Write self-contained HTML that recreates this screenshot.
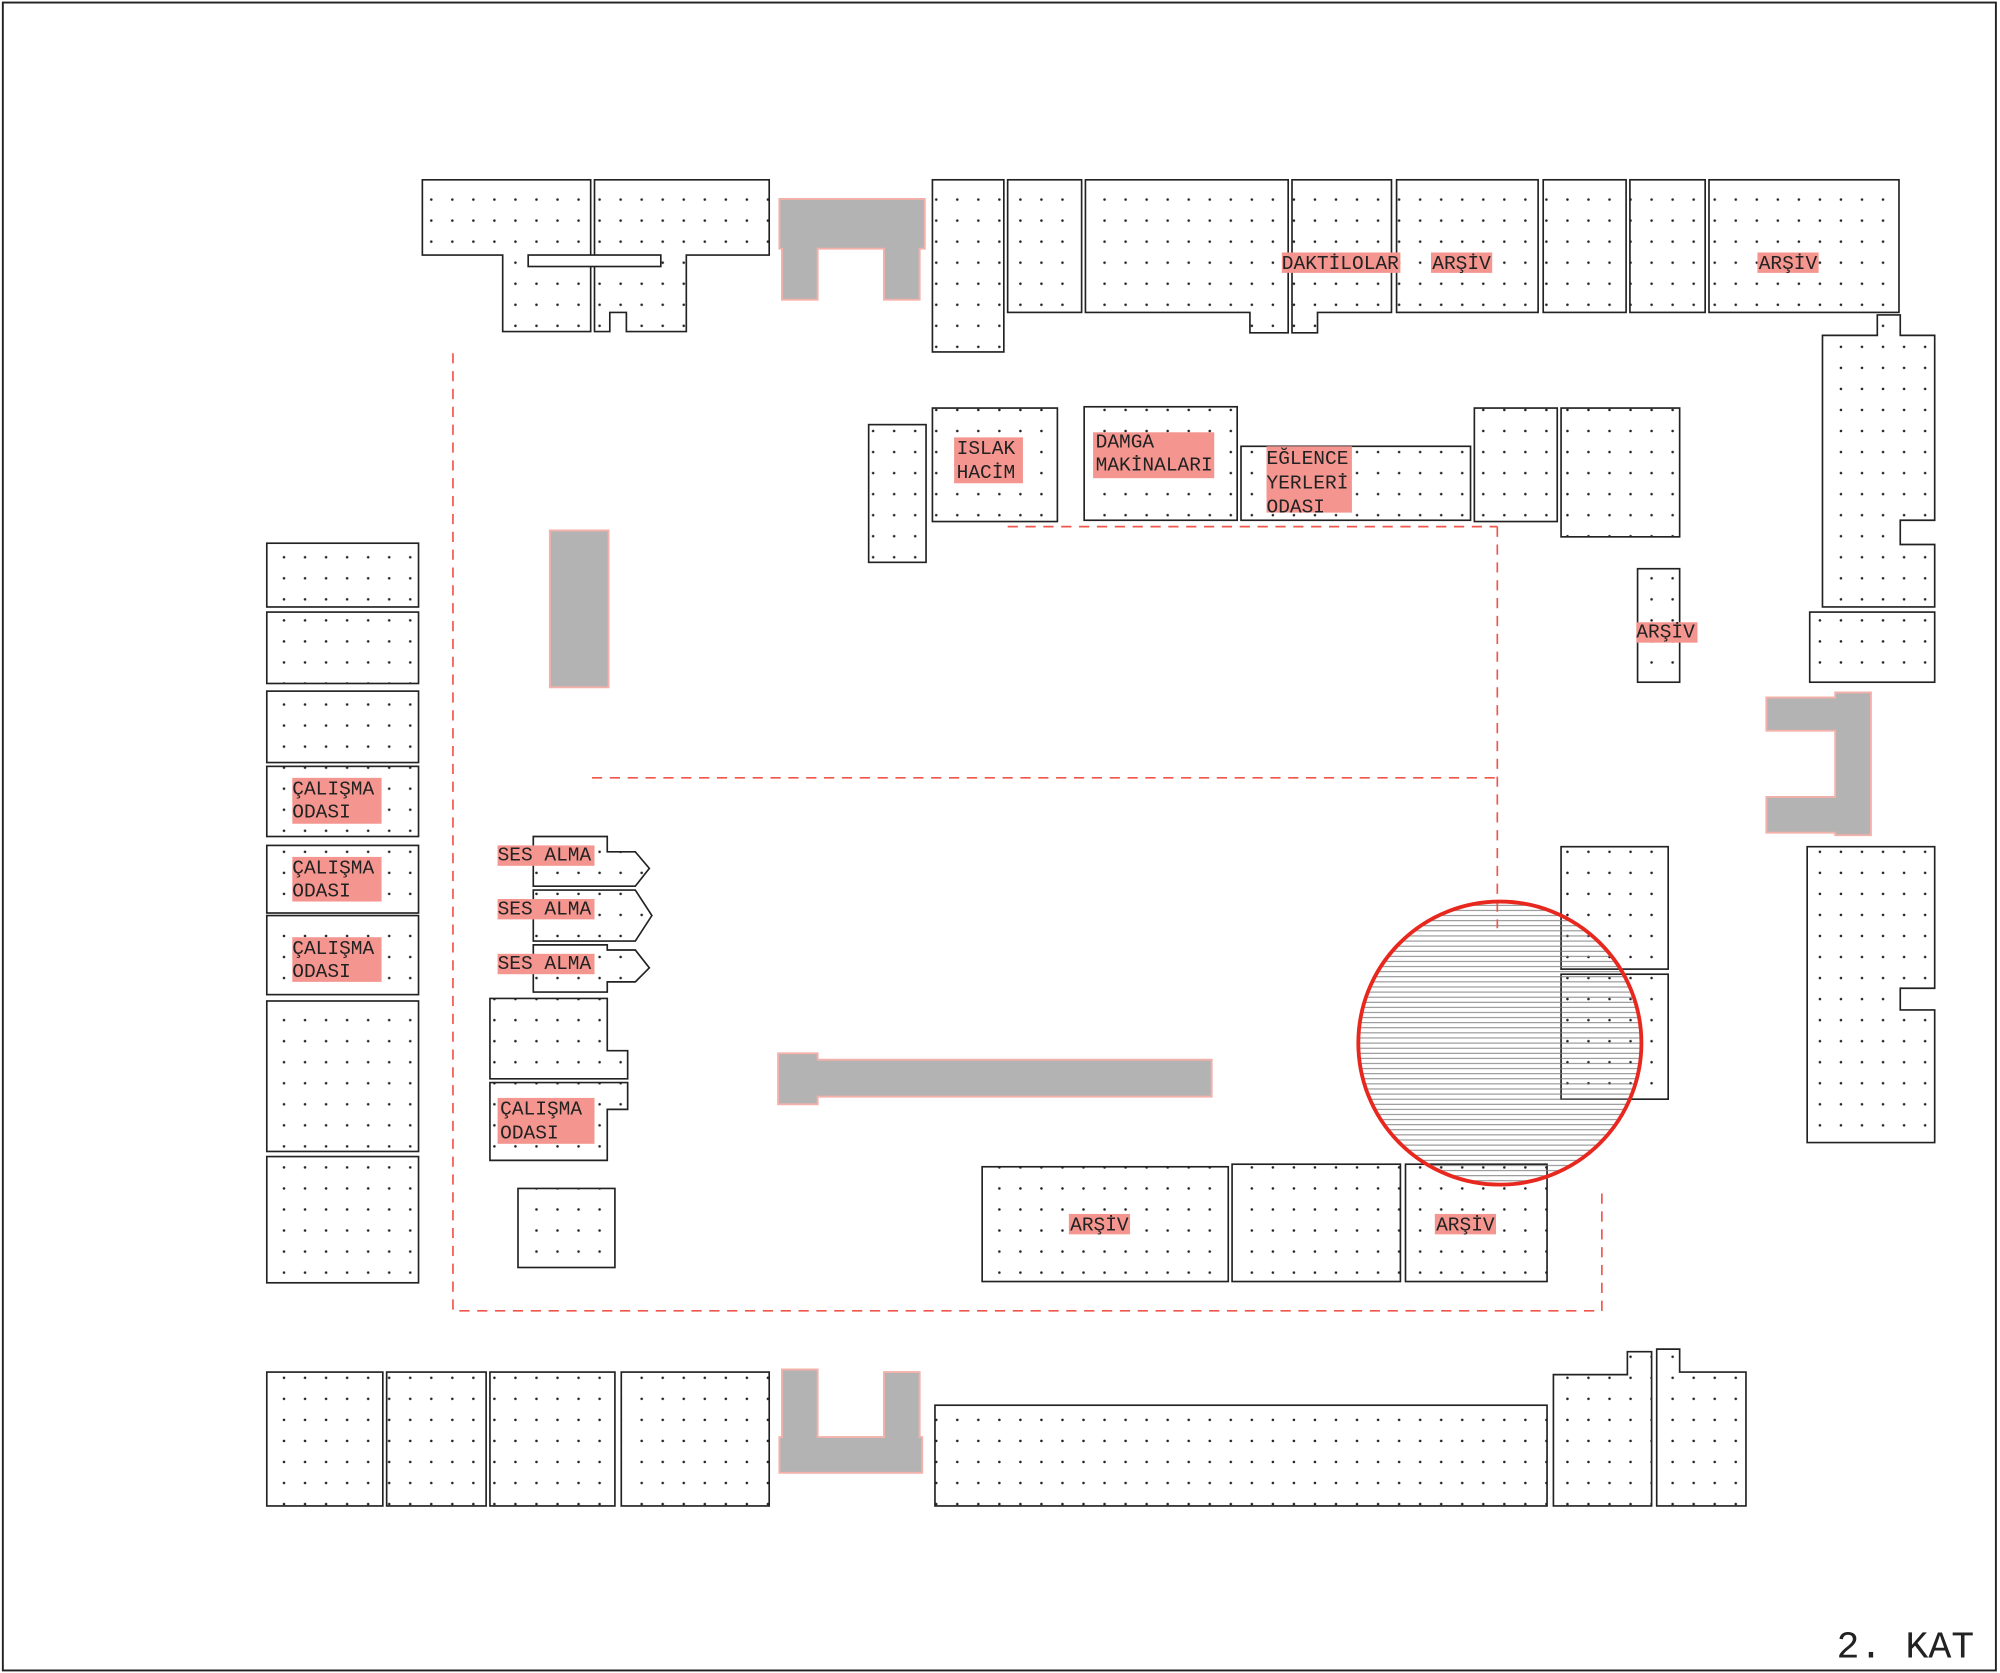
<!DOCTYPE html>
<html><head><meta charset="utf-8"><style>
html,body{margin:0;padding:0;background:#fff}
svg{display:block}
text{font-family:"Liberation Mono",monospace;font-size:15.3px;fill:#222}
</style></head><body>
<svg width="2000" height="1673" viewBox="0 0 1568 1312" xmlns="http://www.w3.org/2000/svg">
<defs>
<pattern id="d" width="16.5" height="16.5" patternUnits="userSpaceOnUse"><circle cx="8" cy="8" r="1" fill="#222"/></pattern>
<pattern id="h" width="10" height="4" patternUnits="userSpaceOnUse"><line x1="0" y1="2" x2="10" y2="2" stroke="#777" stroke-width="0.7"/></pattern>
<clipPath id="cc"><circle cx="1176" cy="818" r="110"/></clipPath>
</defs>
<rect x="2" y="2" width="1563" height="1308" fill="#fff" stroke="#222" stroke-width="1.5"/>
<g fill="url(#d)" stroke="#222" stroke-width="1.3">
<polygon points="331,141 463,141 463,200 463,260 394,260 394,200 331,200"/>
<polygon points="466,141 603,141 603,200 538,200 538,260 491,260 491,245 478,245 478,260 466,260"/>
<rect x="414" y="200" width="104" height="9" fill="#fff"/>
<rect x="731" y="141" width="56" height="135"/>
<rect x="790" y="141" width="58" height="104"/>
<polygon points="851,141 1010,141 1010,261 980,261 980,245 851,245"/>
<polygon points="1013,141 1091,141 1091,245 1033,245 1033,261 1013,261"/>
<rect x="1095" y="141" width="111" height="104"/>
<rect x="1210" y="141" width="65" height="104"/>
<rect x="1278" y="141" width="59" height="104"/>
<rect x="1340" y="141" width="149" height="104"/>
<polygon points="1429,263 1472,263 1472,247 1490,247 1490,263 1517,263 1517,408 1490,408 1490,427 1517,427 1517,476 1429,476"/>
<rect x="1419" y="480" width="98" height="55"/>
<polygon points="1417,664 1517,664 1517,775 1490,775 1490,792 1517,792 1517,896 1417,896"/>
<rect x="1224" y="664" width="84" height="96"/>
<rect x="1224" y="764" width="84" height="98"/>
<rect x="681" y="333" width="45" height="108"/>
<rect x="731" y="320" width="98" height="89"/>
<rect x="850" y="319" width="120" height="89"/>
<rect x="973" y="350" width="180" height="58"/>
<rect x="1156" y="320" width="65" height="89"/>
<rect x="1224" y="320" width="93" height="101"/>
<rect x="1284" y="446" width="33" height="89"/>
<rect x="209" y="426" width="119" height="50"/>
<rect x="209" y="480" width="119" height="56"/>
<rect x="209" y="542" width="119" height="56"/>
<rect x="209" y="601" width="119" height="55"/>
<rect x="209" y="663" width="119" height="53"/>
<rect x="209" y="718" width="119" height="62"/>
<rect x="209" y="785" width="119" height="118"/>
<rect x="209" y="907" width="119" height="99"/>
<polygon points="418,656 476,656 476,668 498,668 509,681 498,695 418,695"/>
<polygon points="418,698 498,698 511,718 498,738 418,738"/>
<polygon points="418,741 476,741 476,745 498,745 509,759 498,770 476,770 476,778 418,778"/>
<polygon points="384,783 476,783 476,824 492,824 492,846 384,846"/>
<polygon points="384,849 492,849 492,870 476,870 476,910 384,910"/>
<rect x="406" y="932" width="76" height="62"/>
<rect x="770" y="915" width="193" height="90"/>
<rect x="966" y="913" width="132" height="92"/>
<rect x="1102" y="913" width="111" height="92"/>
<rect x="209" y="1076" width="91" height="105"/>
<rect x="303" y="1076" width="78" height="105"/>
<rect x="384" y="1076" width="98" height="105"/>
<rect x="487" y="1076" width="116" height="105"/>
<rect x="733" y="1102" width="480" height="79"/>
<polygon points="1218,1078 1276,1078 1276,1060 1295,1060 1295,1181 1218,1181"/>
<polygon points="1299,1058 1317,1058 1317,1076 1369,1076 1369,1181 1299,1181"/>
</g>
<g fill="#b3b3b3" stroke="#f4b0aa" stroke-width="1.5">
<polygon points="611,156 725,156 725,195 721,195 721,235 693,235 693,195 641,195 641,235 613,235 613,195 611,195"/>
<polygon points="1385,547 1439,547 1439,543 1467,543 1467,655 1439,655 1439,653 1385,653 1385,625 1439,625 1439,573 1385,573"/>
<rect x="431" y="416" width="46" height="123"/>
<polygon points="610,826 641,826 641,831 950,831 950,860 641,860 641,866 610,866"/>
<polygon points="613,1074 641,1074 641,1127 693,1127 693,1076 721,1076 721,1127 723,1127 723,1155 611,1155 611,1127 613,1127"/>
</g>
<rect x="1060" y="700" width="240" height="240" fill="url(#h)" clip-path="url(#cc)"/>
<g fill="none" stroke="#f0554a" stroke-width="1.3" stroke-dasharray="8,6">
<polyline points="355,277 355,1028 1256,1028 1256,932"/>
<line x1="464" y1="610" x2="1174" y2="610"/>
<line x1="790" y1="413" x2="1174" y2="413"/>
<line x1="1174" y1="413" x2="1174" y2="728"/>
</g>
<circle cx="1176" cy="818" r="111" fill="none" stroke="#e8281e" stroke-width="3"/>
<g fill="#f4968f">
<rect x="1005" y="198" width="93" height="16"/><rect x="1122" y="198" width="48" height="16"/><rect x="1378" y="198" width="48" height="16"/>
<rect x="748" y="343" width="54" height="36"/><rect x="857" y="339" width="95" height="36"/><rect x="993" y="350" width="67" height="52"/>
<rect x="1283" y="488" width="48" height="16"/>
<rect x="229" y="610" width="70" height="36"/><rect x="229" y="672" width="70" height="35"/><rect x="229" y="735" width="70" height="35"/>
<rect x="390" y="663" width="76" height="16"/><rect x="390" y="705" width="76" height="16"/><rect x="390" y="748" width="76" height="16"/>
<rect x="390" y="861" width="76" height="36"/>
<rect x="838" y="952" width="48" height="16"/><rect x="1125" y="952" width="48" height="16"/>
</g>
<g>
<text x="1005" y="211">DAKTİLOLAR</text><text x="1123" y="211">ARŞİV</text><text x="1379" y="211">ARŞİV</text>
<text x="750" y="356">ISLAK</text><text x="750" y="375">HACİM</text>
<text x="859" y="351">DAMGA</text><text x="859" y="369">MAKİNALARI</text>
<text x="993" y="364">EĞLENCE</text><text x="993" y="383">YERLERİ</text><text x="993" y="402">ODASI</text>
<text x="1283" y="500">ARŞİV</text>
<text x="229" y="623">ÇALIŞMA</text><text x="229" y="641">ODASI</text>
<text x="229" y="685">ÇALIŞMA</text><text x="229" y="703">ODASI</text>
<text x="229" y="748">ÇALIŞMA</text><text x="229" y="766">ODASI</text>
<text x="390" y="675">SES ALMA</text><text x="390" y="717">SES ALMA</text><text x="390" y="760">SES ALMA</text>
<text x="392" y="874">ÇALIŞMA</text><text x="392" y="893">ODASI</text>
<text x="839" y="965">ARŞİV</text><text x="1126" y="965">ARŞİV</text>
<text x="1440" y="1300" style="font-size:30px">2. KAT</text>
</g>
</svg>
</body></html>
